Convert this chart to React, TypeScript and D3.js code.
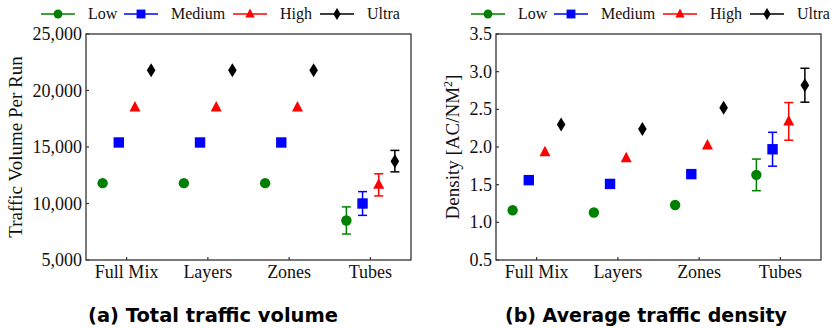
import React from 'react';
import * as d3 from 'd3';

const categories = ['Full Mix', 'Layers', 'Zones', 'Tubes'];
const seriesNames = ['Low', 'Medium', 'High', 'Ultra'];
const seriesColors = ['#008000', '#0000ff', '#ff0000', '#000000'];

// panel (a) total traffic volume
const volumeLow = [11800, 11800, 11800, 8500];
const volumeMedium = [15400, 15400, 15400, 10000];
const volumeHigh = [18500, 18500, 18500, 11650];
const volumeUltra = [21800, 21800, 21800, 13750];
const volumeErrLow = [0, 0, 0, 1200];
const volumeErrMedium = [0, 0, 0, 1050];
const volumeErrHigh = [0, 0, 0, 980];
const volumeErrUltra = [0, 0, 0, 950];
const volumeTicks = [5000, 10000, 15000, 20000, 25000];

// panel (b) average traffic density
const densityLow = [1.16, 1.13, 1.23, 1.63];
const densityMedium = [1.56, 1.51, 1.64, 1.97];
const densityHigh = [1.93, 1.85, 2.02, 2.34];
const densityUltra = [2.3, 2.24, 2.52, 2.82];
const densityErrLow = [0, 0, 0, 0.21];
const densityErrMedium = [0, 0, 0, 0.225];
const densityErrHigh = [0, 0, 0, 0.25];
const densityErrUltra = [0, 0, 0, 0.225];
const densityTicks = [0.5, 1.0, 1.5, 2.0, 2.5, 3.0, 3.5];

const serif = '"Liberation Serif", "Times New Roman", serif';
const plotTop = 34;
const plotBottom = 260;
const plotW = 325;

const Marker = ({ kind, x, y, color, s = 1 }: { kind: number; x: number; y: number; color: string; s?: number }) => {
  if (kind === 0) return <circle cx={x} cy={y} r={5.2 * s} fill={color} />;
  if (kind === 1) return <rect x={x - 5.2 * s} y={y - 5.2 * s} width={10.4 * s} height={10.4 * s} fill={color} />;
  if (kind === 2) {
    const h = 10.5 * s, w = 11 * s;
    return <path d={`M${x},${y - h * 0.62}L${x + w / 2},${y + h * 0.38}L${x - w / 2},${y + h * 0.38}Z`} fill={color} />;
  }
  const w = 4.3 * s, h = 7 * s;
  return <path d={`M${x},${y - h}L${x + w},${y}L${x},${y + h}L${x - w},${y}Z`} fill={color} />;
};

const Legend = ({ x0 }: { x0: number }) => {
  const starts = [0, 83, 192, 279];
  return (
    <g transform={`translate(${x0},14)`}>
      {seriesNames.map((name, i) => (
        <g key={name} transform={`translate(${starts[i]},0)`}>
          <line x1={0} x2={34} y1={0} y2={0} stroke={seriesColors[i]} strokeWidth={1.3} />
          <Marker kind={i} x={17} y={0} color={seriesColors[i]} s={0.85} />
          <text x={47} y={0} dy="0.33em" fontFamily={serif} fontSize={16} fill="#111">{name}</text>
        </g>
      ))}
    </g>
  );
};

interface PanelProps {
  left: number;
  domain: [number, number];
  ticks: number[];
  fmt: (v: number) => string;
  values: number[][];
  errors: number[][];
  ylabel: React.ReactNode;
  labelX: number;
  subtitle: string;
  subtitleX: number;
  subtitleW: number;
}

const Panel = ({ left, domain, ticks, fmt, values, errors, ylabel, labelX, subtitle, subtitleX, subtitleW }: PanelProps) => {
  const x = d3.scaleBand().domain(categories).range([left, left + plotW]).padding(0);
  const y = d3.scaleLinear().domain(domain).range([plotBottom, plotTop]);
  const offsets = d3.scalePoint().domain(seriesNames).range([-24, 24.5]);
  return (
    <g>
      {ticks.map(t => (
        <g key={t}>
          <line x1={left} x2={left + 3} y1={y(t)} y2={y(t)} stroke="#333" strokeWidth={1.2} />
          <text x={left - 4} y={y(t)} dy="0.34em" textAnchor="end" fontFamily={serif} fontSize={18} fill="#111">
            {fmt(t)}
          </text>
        </g>
      ))}
      {categories.map(c => {
        const cx = x(c)! + x.bandwidth() / 2;
        return (
          <g key={c}>
            <line x1={cx} x2={cx} y1={plotBottom} y2={plotBottom - 3} stroke="#333" strokeWidth={1.2} />
            <text x={cx} y={plotBottom + 18} textAnchor="middle" fontFamily={serif} fontSize={18} fill="#111">{c}</text>
          </g>
        );
      })}
      {values.map((vals, si) =>
        vals.map((v, ci) => {
          const cx = x(categories[ci])! + x.bandwidth() / 2 + offsets(seriesNames[si])!;
          const e = errors[si][ci];
          const col = seriesColors[si];
          return (
            <g key={`${si}-${ci}`}>
              {e > 0 && (
                <g stroke={col} strokeWidth={1.5}>
                  <line x1={cx} x2={cx} y1={y(v - e)} y2={y(v + e)} />
                  <line x1={cx - 4.5} x2={cx + 4.5} y1={y(v - e)} y2={y(v - e)} />
                  <line x1={cx - 4.5} x2={cx + 4.5} y1={y(v + e)} y2={y(v + e)} />
                </g>
              )}
              <Marker kind={si} x={cx} y={y(v)} color={col} />
            </g>
          );
        })
      )}
      <rect x={left} y={plotTop} width={plotW} height={plotBottom - plotTop} fill="none" stroke="#333" strokeWidth={1.3} />
      <text transform={`translate(${labelX},${(plotTop + plotBottom) / 2}) rotate(-90)`} textAnchor="middle"
        fontFamily={serif} fontSize={19} fill="#111">
        {ylabel}
      </text>
      <text x={subtitleX} y={322} fontFamily='"DejaVu Sans", Verdana, sans-serif' fontWeight="bold" fontSize={19}
        textLength={subtitleW} lengthAdjust="spacingAndGlyphs" fill="#000">
        {subtitle}
      </text>
    </g>
  );
};

export default function App() {
  const volFmt = d3.format(',');
  const denFmt = d3.format('.1f');
  return (
    <svg width={833} height={328} style={{ position: 'absolute', left: 0, top: 0, background: '#fff' }}>
      <Legend x0={41} />
      <Legend x0={471} />
      <Panel
        left={86}
        domain={[5000, 25000]}
        ticks={volumeTicks}
        fmt={volFmt}
        values={[volumeLow, volumeMedium, volumeHigh, volumeUltra]}
        errors={[volumeErrLow, volumeErrMedium, volumeErrHigh, volumeErrUltra]}
        ylabel="Traffic Volume Per Run"
        labelX={22}
        subtitle="(a) Total traffic volume"
        subtitleX={88}
        subtitleW={250}
      />
      <Panel
        left={496}
        domain={[0.5, 3.5]}
        ticks={densityTicks}
        fmt={denFmt}
        values={[densityLow, densityMedium, densityHigh, densityUltra]}
        errors={[densityErrLow, densityErrMedium, densityErrHigh, densityErrUltra]}
        ylabel={<>Density [AC/NM<tspan fontSize={12} dy={-7}>2</tspan><tspan dy={7}>]</tspan></>}
        labelX={459}
        subtitle="(b) Average traffic density"
        subtitleX={505}
        subtitleW={282}
      />
    </svg>
  );
}
